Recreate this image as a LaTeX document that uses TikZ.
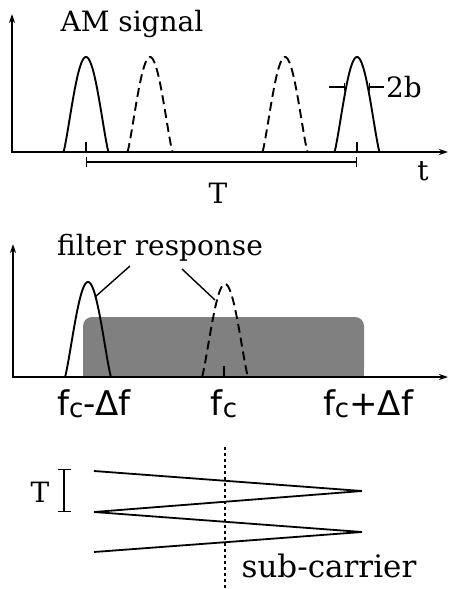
\documentclass[tikz,border=0pt]{standalone}
\usepackage{fontspec}
\newfontfamily\serf{DejaVu Serif}
\newfontfamily\sansf{DejaVu Sans}
\usetikzlibrary{arrows.meta}
\newcommand\fsub[1]{f\raisebox{-2pt}{\fontsize{26}{28}\selectfont #1}}
\begin{document}
\begin{tikzpicture}[x=1pt,y=-1pt,
  ax/.style={line width=1.7pt,{Stealth[length=9pt,width=6pt]}-{Stealth[length=9pt,width=6pt]}},
  pulse/.style={line width=1.9pt},
  dpulse/.style={pulse,dash pattern=on 9pt off 5pt},
  lbl/.style={font=\serf\fontsize{28}{30}\selectfont, inner sep=0pt, anchor=base},
  flbl/.style={font=\sansf\fontsize{34}{36}\selectfont, inner sep=0pt, anchor=base},
  thinln/.style={line width=1.4pt},
  zig/.style={line width=1.8pt, line join=miter}]
\useasboundingbox (0,0) rectangle (450,589);

% ---------- top panel ----------
\coordinate (ytop1) at (12,14);
\coordinate (org1) at (12,152);
\coordinate (xend1) at (448,152);
\foreach \c in {86,357}
  \draw[pulse] plot[domain=-1:1,samples=61,variable=\u] ({\c+22.5*\u},{152-95*(cos(90*\u))^1.2});
\foreach \c in {150,285}
  \draw[dpulse] plot[domain=-1:1,samples=61,variable=\u] ({\c+22.5*\u},{152-95*(cos(90*\u))^1.2});
\draw[ax] (ytop1) -- (org1) -- (xend1);
\coordinate (tk1) at (86,142);
\coordinate (tk1b) at (86,152);
\coordinate (tk2) at (357,142);
\coordinate (tk2b) at (357,152);
\draw[thinln] (tk1) -- (tk1b);
\draw[thinln] (tk2) -- (tk2b);
% T bar
\coordinate (Ta) at (86,162);
\coordinate (Tb) at (357,162);
\draw[thinln, {Bar[width=10pt]}-{Bar[width=10pt]}] (Ta) -- (Tb);
% 2b marker
\coordinate (bl1) at (329,87);
\coordinate (bl2) at (345,87);
\coordinate (br1) at (369,87);
\coordinate (br2) at (384,87);
\draw[thinln, -{Bar[width=8pt]}] (bl1) -- (bl2);
\draw[thinln, {Bar[width=8pt]}-] (br1) -- (br2);

\node[lbl] (am) at (132,31) {AM signal};
\node[lbl] (twob) at (404,97) {2b};
\node[lbl] (tlab) at (423,180) {t};
\node[lbl] (Tlab) at (218,203) {T};

% ---------- middle panel ----------
\fill[black!50, rounded corners=9pt] (83,317) rectangle (364,377);
\fill[black!50] (83,350) rectangle (364,377);
\draw[pulse] plot[domain=-1:1,samples=61,variable=\u] ({88+23*\u},{377-95*(cos(90*\u))^1.2});
\draw[dpulse] plot[domain=-1:1,samples=61,variable=\u] ({225+23*\u},{377-93*(cos(90*\u))^1.2});
\coordinate (ytop2) at (13,244);
\coordinate (org2) at (13,377);
\coordinate (xend2) at (448,377);
\draw[ax] (ytop2) -- (org2) -- (xend2);
\coordinate (tk3) at (224,366);
\coordinate (tk3b) at (224,377);
\draw[thinln] (tk3) -- (tk3b);

\node[lbl] (filt) at (160,255) {filter response};
\coordinate (ld1a) at (130,266);
\coordinate (ld1b) at (95,297);
\coordinate (ld2a) at (182,269);
\coordinate (ld2b) at (215,300);
\draw[thinln] (ld1a) -- (ld1b);
\draw[thinln] (ld2a) -- (ld2b);

\node[flbl] (fcm) at (94,415) {\fsub{c}-Δf};
\node[flbl] (fc) at (224,415) {\fsub{c}};
\node[flbl] (fcp) at (368,415) {\fsub{c}+Δf};

% ---------- bottom panel ----------
\coordinate (dv1) at (225,447);
\coordinate (dv2) at (225,589);
\draw[line width=1.4pt, dash pattern=on 3pt off 3pt] (dv1) -- (dv2);
\coordinate (z1) at (94,471);
\coordinate (z2) at (362,491);
\coordinate (z3) at (94,512);
\coordinate (z4) at (362,532);
\coordinate (z5) at (94,552);
\draw[zig] (z1) -- (z2) -- (z3) -- (z4) -- (z5);
\coordinate (tb1) at (64,469);
\coordinate (tb2) at (64,512);
\draw[thinln, {Bar[width=13pt]}-{Bar[width=13pt]}] (tb1) -- (tb2);
\node[lbl] (T2) at (40,502) {T};
\node[lbl, font=\serf\fontsize{31}{33}\selectfont] (sub) at (329,577) {sub-carrier};
\end{tikzpicture}
\end{document}
